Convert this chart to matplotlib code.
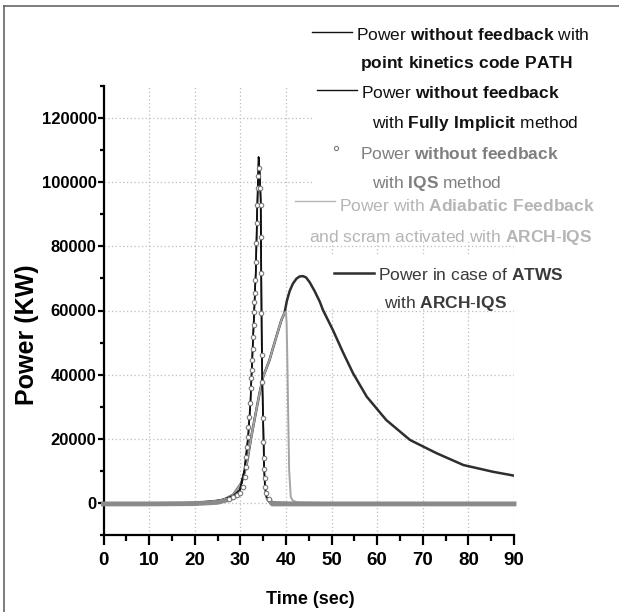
import numpy as np
import matplotlib
matplotlib.use("Agg")
import matplotlib.pyplot as plt
from matplotlib.lines import Line2D
from matplotlib.patches import Rectangle
from matplotlib.ticker import MultipleLocator

plt.rcParams['font.family'] = ['Liberation Sans', 'DejaVu Sans']
plt.rcParams['mathtext.fontset'] = 'custom'
plt.rcParams['mathtext.rm'] = 'Liberation Sans'
plt.rcParams['mathtext.bf'] = 'Liberation Sans:bold'

# power without feedback, point kinetics code PATH
path_t = [0, 10, 20, 25, 27, 28.5, 29.9, 30.9, 31.7, 32.2, 32.8, 33.1, 33.4, 33.7, 34.0,
          34.2, 34.45, 34.55, 34.65, 34.8, 35.0, 35.2, 35.4, 35.7, 36.2, 37.0, 45, 60, 90]
path_p = [0, 0, 200, 800, 1500, 2400, 4100, 10400, 20700, 31100, 51900, 62200, 72600, 92000, 107800,
          104000, 95000, 75000, 55000, 38000, 25000, 11000, 5000, 2000, 800, 300, 0, 0, 0]

# power without feedback, fully implicit method
fi_t = [0, 10, 20, 25, 27, 28.5, 29.9, 30.9, 31.7, 32.2, 32.8, 33.1, 33.4, 33.7, 34.05,
        34.25, 34.5, 34.6, 34.7, 34.85, 35.05, 35.25, 35.45, 35.75, 36.3, 37.0, 45, 60, 90]
fi_p = [-100, -100, 100, 700, 1400, 2300, 4000, 10000, 20000, 30500, 51000, 61500, 72000, 91000, 107000,
        103000, 93000, 73000, 54000, 37000, 24000, 10500, 4800, 1900, 700, 200, -100, -100, -100]

# power without feedback, IQS method
iqs_t = [0, 10, 20, 25, 27.5, 28.5, 29.3, 29.9, 30.6, 31.0, 31.2, 31.35, 31.5, 31.6, 31.75, 31.9,
         32.1, 32.25, 32.4, 32.5, 32.6, 32.7, 32.8, 32.9, 33.0, 33.1, 33.2, 33.3, 33.4, 33.5,
         33.6, 33.7, 33.85, 33.95, 34.05, 34.3, 34.45, 34.5, 34.55, 34.6, 34.7, 34.8, 34.95,
         35.05, 35.15, 35.25, 35.35, 35.45, 35.65, 36.2, 37.0, 45, 60, 90]
iqs_p = [-200, -200, -100, 300, 1200, 1900, 2500, 3100, 5200, 8300, 11400, 14500, 17600, 20700, 23800, 27000,
         31100, 35800, 38900, 41500, 44600, 48000, 51900, 55500, 59500, 62500, 65500, 69500, 75200, 81100,
         87100, 92800, 98000, 102000, 104500, 98000, 92800, 83000, 71700, 59100, 46200, 37800, 26500,
         19200, 14000, 10600, 7800, 5200, 3100, 1200, -200, -200, -200, -200]

# power with adiabatic feedback and scram, ARCH-IQS
adi_t = [15, 20, 24, 26.2, 28.4, 30.2, 31.3, 32.4, 33.5, 34.2, 35.0, 36.4, 37.9, 39.0, 39.7,
         40.0, 40.15, 40.3, 40.45, 40.7, 41.05, 41.5, 42.5, 50, 63.5]
adi_p = [0, 200, 600, 1000, 2600, 6200, 11400, 20700, 29000, 34200, 39400, 44600, 51900, 57000, 59300,
         59600, 56000, 45000, 31100, 10400, 2000, 800, 300, 0, 0]

# power in case of ATWS, ARCH-IQS
atws_t = [0, 10, 20, 24, 26.2, 28.4, 30.2, 31.3, 32.4, 33.5, 34.2, 35.0, 36.4, 37.9, 39.0, 39.7,
          40.2, 40.8, 41.5, 42.3, 43.0, 43.7, 44.4, 45.2, 46.3, 47.4, 48.1, 50.3, 52.5, 54.7,
          57.7, 62.0, 67.2, 73.0, 78.9, 85.4, 90]
atws_p = [-300, -300, -200, 600, 1000, 2600, 6200, 11400, 20700, 29000, 34200, 39400, 44600, 51900, 57000, 59300,
          63000, 66000, 68300, 69900, 70600, 70700, 70300, 68800, 66000, 62800, 60200, 53900, 47000, 40500,
          33200, 25900, 19700, 15600, 11900, 9800, 8600]

x_ticks = [0, 10, 20, 30, 40, 50, 60, 70, 80, 90]
y_ticks = [0, 20000, 40000, 60000, 80000, 100000, 120000]

W, H = 619, 612


def fx(x):
    return x / W


def fy(y):
    return 1 - y / H


fig = plt.figure(figsize=(W / 100, H / 100), dpi=100)
ax = fig.add_axes([103.5 / W, 76.6 / H, 410.5 / W, 449.8 / H])

ax.plot(atws_t, atws_p, color='#2e2e2e', lw=1.8, zorder=2)
ax.plot(adi_t, adi_p, color='#a4a4a4', lw=1.4, zorder=2.2)
ax.plot(path_t, path_p, color='#000000', lw=1.2, zorder=2.5)
ax.plot(fi_t, fi_p, color='#111111', lw=1.1, zorder=2.6)
band, = ax.plot(iqs_t, iqs_p, color='#8a8a8a', lw=3.5, zorder=3)
band.set_clip_path(Rectangle((-1, -3000), 92, 4600, transform=ax.transData))
ax.plot(iqs_t, iqs_p, ls='none', marker='o', ms=3.2, mfc='white', mec='#7a7a7a', mew=0.8,
        markevery=[p > 1000 for p in iqs_p], zorder=3.2)

ax.set_xlim(0, 90)
ax.set_ylim(-10000, 130000)
ax.set_xticks(x_ticks)
ax.set_yticks(y_ticks)
ax.set_yticklabels([str(v) for v in y_ticks])
ax.xaxis.set_minor_locator(MultipleLocator(5))
ax.yaxis.set_minor_locator(MultipleLocator(10000))
for s in ['top', 'right']:
    ax.spines[s].set_visible(False)
for s in ['left', 'bottom']:
    ax.spines[s].set_linewidth(1.6)
ax.tick_params(axis='x', which='major', length=7, width=1.6, pad=5, labelsize=13.5)
ax.tick_params(axis='x', which='minor', length=4.5, width=1.6)
ax.tick_params(axis='y', which='major', length=4, width=1.6, pad=1, labelsize=12)
ax.tick_params(axis='y', which='minor', length=3, width=1.6)
for lbl in ax.get_xticklabels() + ax.get_yticklabels():
    lbl.set_fontweight('bold')
ax.grid(True, which='major', color='#bdbdbd', linestyle=(0, (1, 2)), lw=0.9)
ax.set_axisbelow(True)

fig.text(fx(27), fy(335), 'Power (KW)', rotation=90, ha='center', va='center',
         fontsize=18, fontweight='bold')
fig.text(fx(310), fy(600), 'Time (sec)', ha='center', va='center', fontsize=13, fontweight='bold')

# legend: white boxes, two-line labels, handles left of the first line
for x0, y0, y1 in [(313, 10, 75), (313, 75, 135), (313, 135, 192), (295, 192, 241), (330, 254, 309)]:
    fig.add_artist(Rectangle((fx(x0), fy(y1)), 1 - fx(x0), (y1 - y0) / H,
                             transform=fig.transFigure, facecolor='white', edgecolor='none', zorder=5))

labels = [
    (r"Power $\mathbf{without\ feedback}$ with", '#111111', 473, 40),
    (r"$\mathbf{point\ kinetics\ code\ PATH}$", '#111111', 466, 68),
    (r"Power $\mathbf{without\ feedback}$", '#111111', 460, 98),
    (r"with $\mathbf{Fully\ Implicit}$ method", '#111111', 475, 128),
    (r"Power $\mathbf{without\ feedback}$", '#7f7f7f', 459, 159),
    (r"with $\mathbf{IQS}$ method", '#7f7f7f', 437, 188),
    (r"Power with $\mathbf{Adiabatic\ Feedback}$", '#b5b5b5', 467, 211),
    (r"and scram activated with $\mathbf{ARCH}$-$\mathbf{IQS}$", '#b5b5b5', 451, 242),
    (r"Power in case of $\mathbf{ATWS}$", '#3a3a3a', 471, 280),
    (r"with $\mathbf{ARCH}$-$\mathbf{IQS}$", '#3a3a3a', 445, 308),
]
texts = []
for s, c, x, y in labels:
    texts.append(fig.text(fx(x), fy(y), s, ha='center', va='baseline', fontsize=12.5, color=c, zorder=6))

fig.canvas.draw()
renderer = fig.canvas.get_renderer()
handles = [(0, 32, '#111111', 1.0, None), (2, 90, '#111111', 1.0, None), (4, 148, '#7a7a7a', 0, 'o'),
           (6, 201, '#b5b5b5', 1.0, None), (8, 273, '#2e2e2e', 1.8, None)]
for i, y, c, lw, mk in handles:
    left = texts[i].get_window_extent(renderer).x0
    if mk:
        fig.add_artist(Line2D([fx(left - 24)], [fy(y)], ls='none', marker=mk, ms=3, mfc='white', mec=c,
                              mew=0.8, transform=fig.transFigure, zorder=6))
    else:
        fig.add_artist(Line2D([fx(left - 44), fx(left - 4)], [fy(y), fy(y)], color=c, lw=lw,
                              transform=fig.transFigure, zorder=6))

# outer frame (left and top edges)
fig.add_artist(Line2D([fx(3.5), fx(3.5)], [0, fy(6)], color='#666666', lw=1.2, transform=fig.transFigure))
fig.add_artist(Line2D([fx(3.5), 1], [fy(6), fy(6)], color='#666666', lw=1.2, transform=fig.transFigure))

fig.savefig('out.png', dpi=100)
